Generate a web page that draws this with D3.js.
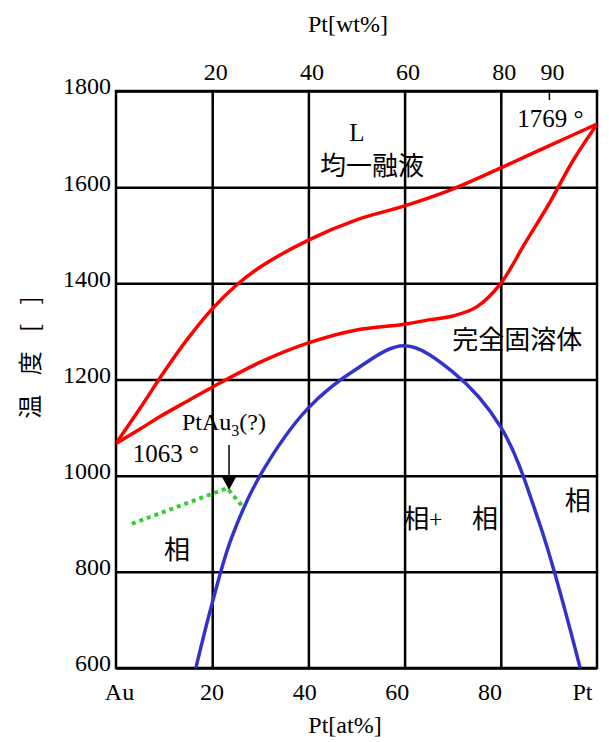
<!DOCTYPE html>
<html>
<head>
<meta charset="utf-8">
<script src="https://cdn.jsdelivr.net/npm/d3@7"></script>
<style>
body{margin:0;background:#fff;}
svg{display:block;}
.serif{font-family:"Liberation Serif","Times New Roman",serif;}
.cjk{font-family:"Noto Sans CJK JP","Noto Sans CJK SC",sans-serif;}
</style>
</head>
<body>
<div id="chart"></div>
<script>
const W = 609, H = 742;
const margin = {t:91, r:12, b:74, l:116};
const w = W - margin.l - margin.r;
const h = H - margin.t - margin.b;
const SERIF = '"Liberation Serif", "Times New Roman", serif';

//axis ticks
const xTicks = [0, 20, 40, 60, 80, 100];
const xTickLabels = ['Au', '20', '40', '60', '80', 'Pt'];
const wtTicks = [20, 40, 60, 80, 90];
const yTicks = [600, 800, 1000, 1200, 1400, 1600, 1800];

//liquidus (upper red)
const liquidusAt = [0, 5, 10, 15, 20, 25, 30, 40, 50, 60, 70, 80, 90, 100];
const liquidusT = [1067, 1140, 1216, 1286, 1347, 1396, 1434, 1490, 1532, 1561, 1596, 1640, 1686, 1731];

//solidus (lower red)
const solidusAt = [0, 5, 9, 15, 20, 30, 40, 50, 60, 65, 70, 75, 80, 85, 90, 95, 100];
const solidusT = [1067, 1097, 1122, 1156, 1184, 1236, 1276, 1303, 1315, 1324, 1332, 1351, 1400, 1483, 1565, 1655, 1731];

//miscibility gap (blue)
const gapAt = [16.6, 20, 24, 30, 40, 50, 60, 70, 80, 88, 96.5];
const gapT = [600, 735, 870, 1001, 1141, 1222, 1270, 1216, 1101, 902, 600];

//PtAu3 (?) dotted line
const orderAt = [3.3, 23.1, 26.4];
const orderT = [900, 974, 935];

//arrow pointing to the PtAu3 peak
const arrowAt = 23.5;
const arrowT = [1064, 970];

//text notes, placed in data units
const notes = [
	{text:'L', at:50.1, t:1697, cls:'serif', anchor:'middle'},
	{text:'均一融液', at:53.2, t:1626, cls:'cjk', anchor:'middle'},
	{text:'完全固溶体', at:83.4, t:1264, cls:'cjk', anchor:'middle'},
	{text:'1769 °', at:83.4, t:1725, cls:'serif', anchor:'start'},
	{text:'1063 °', at:3.5, t:1028, cls:'serif', anchor:'start'},
	{text:'相', at:12.7, t:826, cls:'cjk', anchor:'middle'},
	{text:'相', at:74, t:892, cls:'cjk', anchor:'start'},
	{text:'相', at:93.3, t:928, cls:'cjk', anchor:'start'}
];

const svg = d3.select('#chart')
	.append('svg')
	.attr('width', W).attr('height', H);

svg.append('rect').attr('width', W).attr('height', H).style('fill', '#fff');

const plot = svg.append('g')
	.attr('transform', `translate(${margin.l}, ${margin.t})`);

const scaleX = d3.scaleLinear().domain([0, 100]).range([0, w]);
const scaleY = d3.scaleLinear().domain([600, 1800]).range([h, 0]);
//bottom labels in the original sit a little inside the frame
const scaleXLabel = d3.scaleLinear().domain([0, 100]).range([3, w - 15]);

//grid
const axisY = d3.axisLeft(scaleY)
	.tickValues(yTicks)
	.tickSize(-w)
	.tickPadding(5)
	.tickFormat(d3.format('d'));

const gy = plot.append('g')
	.attr('class', 'axis axis-y')
	.attr('font-family', SERIF)
	.call(axisY);
gy.select('.domain').remove();
gy.selectAll('line').style('stroke', '#000').style('stroke-width', 2.5);
gy.selectAll('text')
	.attr('dy', '0.12em')
	.style('font-family', SERIF)
	.style('font-size', '24px')
	.style('fill', '#000');

const gx = plot.append('g')
	.attr('class', 'axis axis-x')
	.attr('transform', `translate(0, ${h})`)
	.call(d3.axisBottom(scaleX).tickValues([20, 40, 60, 80]).tickSize(-h).tickFormat(''));
gx.select('.domain').remove();
gx.selectAll('line').style('stroke', '#000').style('stroke-width', 2.5);

const gxl = plot.append('g')
	.attr('class', 'axis axis-x-label')
	.attr('transform', `translate(0, ${h})`)
	.call(d3.axisBottom(scaleXLabel).tickValues(xTicks).tickSize(0).tickPadding(15)
		.tickFormat(function(d, i){ return xTickLabels[i]; }));
gxl.select('.domain').remove();
gxl.selectAll('text')
	.style('font-family', SERIF)
	.style('font-size', '24px')
	.style('fill', '#000');

const gt = plot.append('g')
	.attr('class', 'axis axis-top')
	.call(d3.axisTop(scaleX).tickValues(wtTicks).tickSize(-9).tickPadding(11));
gt.select('.domain').remove();
gt.selectAll('line').style('stroke', '#000').style('stroke-width', 1.5);
gt.selectAll('text')
	.attr('dy', '0')
	.attr('dx', 3)
	.style('font-family', SERIF)
	.style('font-size', '24px')
	.style('fill', '#000');

//frame
plot.append('rect')
	.attr('width', w).attr('height', h)
	.style('fill', 'none')
	.style('stroke', '#000')
	.style('stroke-width', 2.5);

//curves
plot.append('clipPath').attr('id', 'clip')
	.append('rect').attr('width', w).attr('height', h);

const line = d3.line()
	.x(function(d){ return scaleX(d[0]) })
	.y(function(d){ return scaleY(d[1]) })
	.curve(d3.curveCatmullRom.alpha(0.5));

const curves = plot.append('g').attr('clip-path', 'url(#clip)');

curves.append('path')
	.datum(d3.zip(liquidusAt, liquidusT))
	.attr('d', line)
	.style('fill', 'none').style('stroke', '#ff0000').style('stroke-width', 3.5);

curves.append('path')
	.datum(d3.zip(solidusAt, solidusT))
	.attr('d', line)
	.style('fill', 'none').style('stroke', '#ff0000').style('stroke-width', 3.5);

curves.append('path')
	.datum(d3.zip(gapAt, gapT))
	.attr('d', line)
	.style('fill', 'none').style('stroke', '#3333cc').style('stroke-width', 3.5);

curves.append('path')
	.datum(d3.zip(orderAt, orderT))
	.attr('d', d3.line().x(function(d){ return scaleX(d[0]) }).y(function(d){ return scaleY(d[1]) }))
	.style('fill', 'none').style('stroke', '#33cc33').style('stroke-width', 4)
	.style('stroke-dasharray', '4 4');

//arrow
const ax = scaleX(arrowAt);
const ay0 = scaleY(arrowT[0]);
const ay1 = scaleY(arrowT[1]);
plot.append('line')
	.attr('x1', ax).attr('x2', ax)
	.attr('y1', ay0).attr('y2', ay1 - 10)
	.style('stroke', '#000').style('stroke-width', 1.5);
plot.append('path')
	.attr('d', `M${ax - 7},${ay1 - 13}L${ax + 7},${ay1 - 13}L${ax},${ay1}Z`)
	.style('fill', '#000');

//notes
plot.selectAll('.note')
	.data(notes)
	.enter()
	.append('text')
	.attr('class', function(d){ return 'note ' + d.cls })
	.attr('x', function(d){ return scaleX(d.at) })
	.attr('y', function(d){ return scaleY(d.t) })
	.attr('text-anchor', function(d){ return d.anchor })
	.style('font-size', function(d){ return d.cls === 'cjk' ? '26px' : '25px' })
	.style('fill', '#000')
	.text(function(d){ return d.text });

//PtAu3(?) with subscript
const ptau = plot.append('text')
	.attr('class', 'serif')
	.attr('x', scaleX(13.7))
	.attr('y', scaleY(1095))
	.style('font-size', '24px');
ptau.append('tspan').text('PtAu');
ptau.append('tspan').attr('dy', 6).style('font-size', '16px').text('3');
ptau.append('tspan').attr('dy', -6).text('(?)');

//相+
const phase = plot.append('text')
	.attr('class', 'cjk')
	.attr('x', scaleX(59.7))
	.attr('y', scaleY(892))
	.style('font-size', '26px');
phase.append('tspan').text('相');
phase.append('tspan').style('font-size', '24px').style('font-weight', 300).text('+');

//axis titles
svg.append('text')
	.attr('class', 'serif')
	.attr('x', 348).attr('y', 32)
	.attr('text-anchor', 'middle')
	.style('font-size', '24px')
	.text('Pt[wt%]');

svg.append('text')
	.attr('class', 'serif')
	.attr('x', 345).attr('y', 733)
	.attr('text-anchor', 'middle')
	.style('font-size', '24px')
	.text('Pt[at%]');

svg.append('text')
	.attr('class', 'cjk')
	.attr('transform', 'translate(39, 354) rotate(-90)')
	.attr('text-anchor', 'middle')
	.style('font-size', '24px')
	.style('letter-spacing', '7px')
	.text('温 度 [ ]');
</script>
</body>
</html>
